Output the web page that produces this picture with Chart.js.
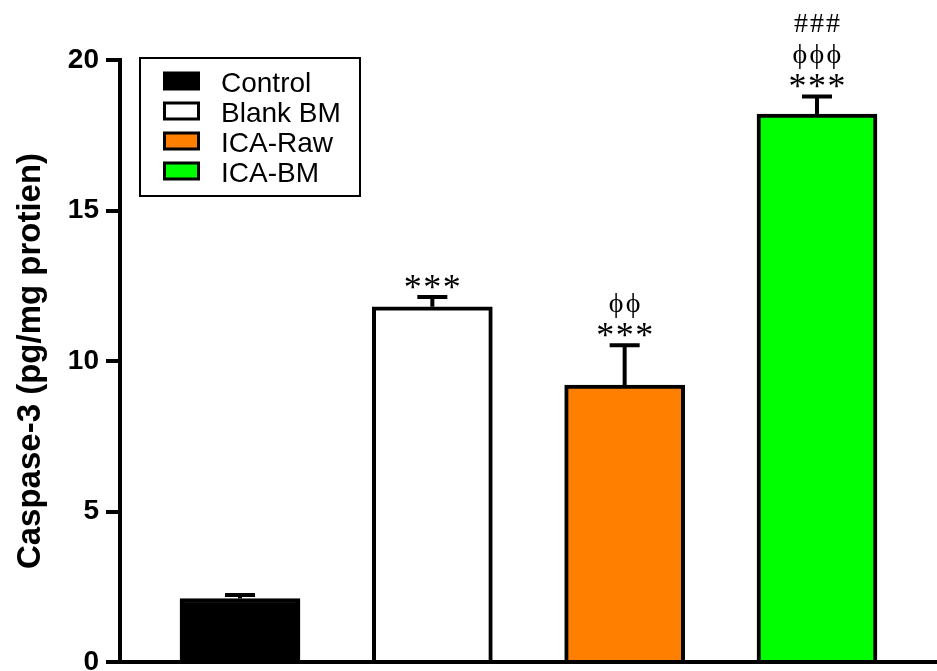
<!DOCTYPE html>
<html>
<head>
<meta charset="utf-8">
<title>Caspase-3</title>
<script src="https://cdn.jsdelivr.net/npm/chart.js@4/dist/chart.umd.min.js"></script>
<style>
  html, body { margin: 0; padding: 0; background: #fff; }
  #chart { display: block; }
</style>
</head>
<body>
<canvas id="chart" width="937" height="671"></canvas>
<script>
// groups, mean and SEM (pg/mg protein)
const groups = ['Control', 'Blank BM', 'ICA-Raw', 'ICA-BM'];
const means = [2.11, 11.80, 9.20, 18.20];
const sems = [0.12, 0.33, 1.32, 0.59];
const fills = ['#000000', '#ffffff', '#ff8000', '#00ff00'];
const yTicks = [0, 5, 10, 15, 20];
// significance marks, listed from the bar upwards
const marks = [[], ['***'], ['***', '\u03d5\u03d5'], ['***', '\u03d5\u03d5\u03d5', '###']];

const SANS = '"Liberation Sans", Arial, Helvetica, sans-serif';
const SERIF = '"Liberation Serif", "Times New Roman", "DejaVu Serif", serif';

// upper SEM whisker with a cap
const errorBars = {
  id: 'errorBars',
  afterDatasetsDraw(chart) {
    const ctx = chart.ctx;
    const y = chart.scales.y;
    const meta = chart.getDatasetMeta(0);
    ctx.save();
    ctx.strokeStyle = '#000';
    ctx.lineWidth = 4;
    meta.data.forEach(function (bar, i) {
      const top = y.getPixelForValue(means[i] + sems[i]);
      const base = y.getPixelForValue(means[i]);
      ctx.beginPath();
      ctx.moveTo(bar.x, base);
      ctx.lineTo(bar.x, top);
      ctx.moveTo(bar.x - 15, top);
      ctx.lineTo(bar.x + 15, top);
      ctx.stroke();
    });
    ctx.restore();
  }
};

// stars / phi / hash above each whisker
const sigMarks = {
  id: 'sigMarks',
  afterDatasetsDraw(chart) {
    const ctx = chart.ctx;
    const y = chart.scales.y;
    const meta = chart.getDatasetMeta(0);
    const offsets = [15, 40, 73];
    const gaps = { '*': 19.5, '\u03d5': 17, '#': 16 };
    const sizes = { '*': 36, '\u03d5': 28, '#': 28 };
    ctx.save();
    ctx.fillStyle = '#000';
    ctx.textAlign = 'center';
    ctx.textBaseline = 'alphabetic';
    meta.data.forEach(function (bar, i) {
      const capY = y.getPixelForValue(means[i] + sems[i]);
      marks[i].forEach(function (str, k) {
        const chars = Array.from(str);
        const gap = gaps[chars[0]] || 17;
        ctx.font = (sizes[chars[0]] || 28) + 'px ' + SERIF;
        const cy = capY - offsets[k];
        chars.forEach(function (ch, j) {
          const m = ctx.measureText(ch);
          const base = cy + (m.actualBoundingBoxAscent - m.actualBoundingBoxDescent) / 2;
          const cx = bar.x + (j - (chars.length - 1) / 2) * gap;
          ctx.fillText(ch, cx, base);
        });
      });
    });
    ctx.restore();
  }
};

// boxed legend in the upper left of the plot
const boxLegend = {
  id: 'boxLegend',
  afterDraw(chart) {
    const ctx = chart.ctx;
    const left = chart.chartArea.left + 20;
    const top = chart.chartArea.top - 2;
    ctx.save();
    ctx.strokeStyle = '#000';
    ctx.lineWidth = 2;
    ctx.strokeRect(left, top, 220, 138);
    ctx.font = '28px ' + SANS;
    ctx.textBaseline = 'alphabetic';
    ctx.textAlign = 'left';
    groups.forEach(function (g, i) {
      const baseY = top + 33.5 + i * 30;
      ctx.fillStyle = fills[i];
      ctx.fillRect(left + 24.5, baseY - 18.5, 34, 16);
      ctx.lineWidth = 3;
      ctx.strokeRect(left + 24.5, baseY - 18.5, 34, 16);
      ctx.fillStyle = '#000';
      ctx.fillText(g, left + 81, baseY);
    });
    ctx.restore();
  }
};

new Chart(document.getElementById('chart'), {
  type: 'bar',
  data: {
    datasets: [{
      label: 'Caspase-3',
      data: groups.map(function (g, i) { return { x: i + 1, y: means[i] }; }),
      backgroundColor: fills,
      borderColor: '#000',
      borderWidth: 4,
      borderSkipped: 'start',
      barThickness: 120
    }]
  },
  options: {
    responsive: false,
    devicePixelRatio: 1,
    animation: false,
    layout: { padding: { top: 60, left: 0, right: 0, bottom: 0 } },
    plugins: {
      legend: { display: false },
      tooltip: { enabled: false }
    },
    scales: {
      x: {
        type: 'linear',
        offset: false,
        min: 0.376,
        max: 4.624,
        ticks: { display: false },
        grid: { display: false, offset: false },
        border: { display: true, color: '#000', width: 4 },
        afterFit: function (s) { s.height = 9; s.paddingLeft = 0; s.paddingRight = 0; }
      },
      y: {
        min: 0,
        max: 20,
        afterBuildTicks: function (s) { s.ticks = yTicks.map(function (v) { return { value: v }; }); },
        ticks: {
          color: '#000',
          padding: 7,
          font: { family: SANS, size: 28, weight: 'bold' }
        },
        grid: {
          drawOnChartArea: false,
          drawTicks: true,
          tickLength: 14,
          color: '#000',
          lineWidth: 4
        },
        border: { display: true, color: '#000', width: 4 },
        title: {
          display: true,
          text: 'Caspase-3 (pg/mg protien)',
          color: '#000',
          font: { family: SANS, size: 33, weight: 'bold' },
          padding: { top: 11, bottom: 0 }
        },
        afterFit: function (s) { s.width = 120; s.paddingTop = 0; s.paddingBottom = 0; }
      }
    }
  },
  plugins: [errorBars, sigMarks, boxLegend]
});
</script>
</body>
</html>
